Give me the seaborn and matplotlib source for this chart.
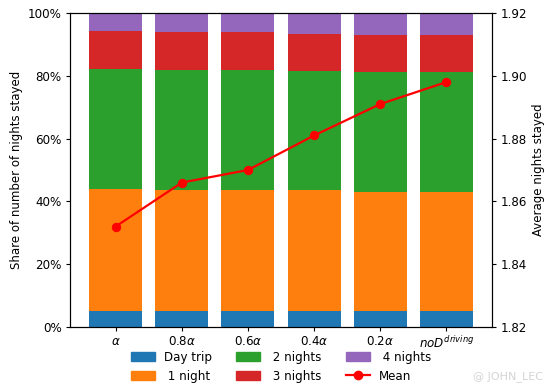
import matplotlib
matplotlib.use('Agg')
import numpy as np
import pandas as pd
import matplotlib.pyplot as plt
import matplotlib.patches as mpatches
from matplotlib.lines import Line2D
from matplotlib.ticker import PercentFormatter, FormatStrFormatter
import seaborn as sns

# scenario labels (x axis)
scenarios = [r'$\alpha$', r'$0.8\alpha$', r'$0.6\alpha$', r'$0.4\alpha$',
             r'$0.2\alpha$', r'$noD^{driving}$']
# share of trips by number of nights stayed (%)
day_trip = [5.2, 5.2, 5.2, 5.2, 5.2, 5.2]
one_night = [38.8, 38.5, 38.5, 38.3, 37.9, 37.9]
two_nights = [38.2, 38.0, 38.0, 37.9, 38.1, 38.1]
three_nights = [12.2, 12.3, 12.3, 11.9, 11.8, 11.8]
four_nights = [5.6, 6.0, 6.0, 6.7, 7.0, 7.0]
# average nights stayed
mean_nights = [1.852, 1.866, 1.870, 1.881, 1.891, 1.898]

labels = ['Day trip', ' 1 night', ' 2 nights', ' 3 nights', ' 4 nights']

plt.rcParams['font.size'] = 8.6
plt.rcParams['axes.labelsize'] = 8.5
plt.rcParams['xtick.major.size'] = 2.8
plt.rcParams['ytick.major.size'] = 2.8
plt.rcParams['xtick.major.pad'] = 3.2
plt.rcParams['ytick.major.pad'] = 3.2
plt.rcParams['axes.labelpad'] = 3.4
colors = sns.color_palette('tab10')[:5]

shares = pd.DataFrame({'Day trip': day_trip, ' 1 night': one_night,
                       ' 2 nights': two_nights, ' 3 nights': three_nights,
                       ' 4 nights': four_nights}, index=scenarios) / 100.0
# normalise so every bar fills to 100%
shares = shares.div(shares.sum(axis=1), axis=0)
cum = shares.cumsum(axis=1)

fig, ax = plt.subplots(figsize=(5.5, 3.92), dpi=100)
fig.subplots_adjust(left=0.1273, right=0.8945, top=0.9668, bottom=0.1658)

# stacked bars: draw cumulative totals from the top layer down
for lab, col in reversed(list(zip(labels, colors))):
    sns.barplot(x=scenarios, y=cum[lab].values, color=col, saturation=1,
                width=0.8, linewidth=0, ax=ax)

ax.set_xlim(-0.69, len(scenarios) - 1 + 0.69)
ax.set_ylim(0, 1)
ax.yaxis.set_major_formatter(PercentFormatter(1.0, decimals=0))
ax.set_ylabel('Share of number of nights stayed')
ax.set_xlabel('')

ax2 = ax.twinx()
sns.lineplot(x=np.arange(len(scenarios)), y=mean_nights, color='red',
             marker='o', markersize=6, markeredgecolor='red', linewidth=1.6,
             ax=ax2)
ax2.set_ylim(1.82, 1.92)
ax2.set_yticks(np.arange(1.82, 1.9201, 0.02))
ax2.yaxis.set_major_formatter(FormatStrFormatter('%.2f'))
ax2.set_ylabel('Average nights stayed')

handles = [mpatches.Patch(color=c, label=l) for l, c in zip(labels, colors)]
handles.append(Line2D([], [], color='red', marker='o', linewidth=1.6,
                      markersize=6, label='Mean'))
ax.legend(handles=handles, loc='upper center', bbox_to_anchor=(0.5, -0.06),
          ncol=3, frameon=False, borderaxespad=0)

fig.text(0.987, 0.025, '@ JOHN_LEC', ha='right', va='bottom',
         color='#d4d4d4', fontsize=8)

fig.savefig('out.png', dpi=100)
